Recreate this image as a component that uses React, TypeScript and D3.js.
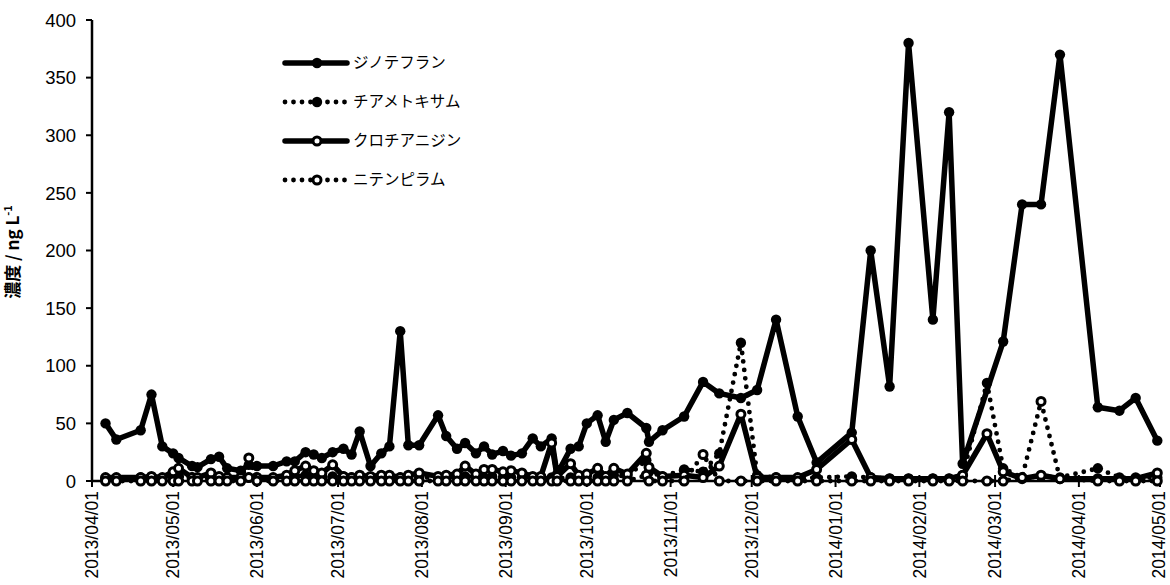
import React from 'react';
import * as d3 from 'd3';

const dates = [
  "2013-04-06","2013-04-10","2013-04-19","2013-04-23","2013-04-27","2013-05-01","2013-05-03","2013-05-08","2013-05-10","2013-05-15",
  "2013-05-18","2013-05-21","2013-05-26","2013-05-29","2013-06-01","2013-06-07","2013-06-12","2013-06-15","2013-06-19","2013-06-22",
  "2013-06-25","2013-06-29","2013-07-03","2013-07-06","2013-07-09","2013-07-13","2013-07-17","2013-07-20","2013-07-24","2013-07-27",
  "2013-07-31","2013-08-07","2013-08-10","2013-08-14","2013-08-17","2013-08-21","2013-08-24","2013-08-27","2013-08-31","2013-09-03",
  "2013-09-07","2013-09-11","2013-09-14","2013-09-18","2013-09-20","2013-09-25","2013-09-28","2013-10-01","2013-10-05","2013-10-08",
  "2013-10-11","2013-10-16","2013-10-23","2013-10-24","2013-10-29","2013-11-06","2013-11-13","2013-11-19","2013-11-27","2013-12-03",
  "2013-12-10","2013-12-18","2013-12-25","2014-01-07","2014-01-14","2014-01-21","2014-01-28","2014-02-06","2014-02-12","2014-02-17",
  "2014-02-26","2014-03-04","2014-03-11","2014-03-18","2014-03-25","2014-04-08","2014-04-16","2014-04-22","2014-04-30"
];

const dinotefuran: (number | null)[] = [
  50,36,44,75,30,24,20,13,12,19,
  21,11,9,14,13,13,17,17,25,23,
  20,25,28,23,43,13,24,30,130,31,
  31,57,39,28,33,24,30,23,26,22,
  24,37,30,37,6,28,30,50,57,34,
  53,59,46,34,44,56,86,76,72,79,
  140,56,16,42,200,82,380,140,320,15,
  null,121,240,240,370,64,61,72,35
];

const thiamethoxam: (number | null)[] = [
  2,2,3,3,2,3,4,3,2,3,
  3,2,2,3,3,2,3,4,5,4,
  3,4,4,3,3,2,3,3,3,4,
  3,3,4,3,4,3,3,4,3,3,
  3,3,2,3,2,3,3,4,3,3,
  5,4,18,8,4,10,8,24,120,5,
  3,2,3,4,3,2,2,2,2,5,
  85,11,3,4,3,11,3,3,3
];

const clothianidin: (number | null)[] = [
  3,3,3,4,3,8,11,3,3,7,
  4,3,3,3,3,3,5,9,13,9,
  7,14,4,3,5,4,5,5,3,5,
  7,4,5,6,13,6,10,10,8,9,
  7,4,4,33,4,15,5,6,11,4,
  11,6,24,12,4,5,3,13,58,3,
  3,3,10,36,3,2,2,2,2,5,
  41,8,2,5,2,2,2,2,7
];

const nitenpyram: (number | null)[] = [
  0,0,0,0,0,0,0,0,0,0,
  0,0,0,20,0,0,0,0,0,0,
  0,0,0,0,0,0,0,0,0,0,
  0,0,0,0,0,0,0,0,0,0,
  0,0,0,0,0,0,0,0,0,0,
  0,0,5,0,0,0,23,0,0,0,
  0,0,0,0,0,0,0,0,0,0,
  0,0,3,69,2,0,0,0,0
];

const seriesNames = ["ジノテフラン", "チアメトキサム", "クロチアニジン", "ニテンピラム"];
const yTicks = [0, 50, 100, 150, 200, 250, 300, 350, 400];
const xTickDates = [
  "2013-04-01","2013-05-01","2013-06-01","2013-07-01","2013-08-01","2013-09-01","2013-10-01",
  "2013-11-01","2013-12-01","2014-01-01","2014-02-01","2014-03-01","2014-04-01","2014-05-01"
];

const parse = d3.utcParse("%Y-%m-%d");
const fmt = d3.utcFormat("%Y/%m/%d");

const x = d3.scaleUtc()
  .domain([parse("2013-04-01")!, parse("2014-05-01")!])
  .range([92, 1160]);
const y = d3.scaleLinear().domain([0, 400]).range([481, 20]);

type Pt = { d: Date; v: number };
const toPts = (vals: (number | null)[]): Pt[] =>
  dates.map((s, i) => ({ d: parse(s)!, v: vals[i] as number })).filter((p, i) => vals[i] != null);

const series = [
  { name: seriesNames[0], pts: toPts(dinotefuran), dotted: false, open: false },
  { name: seriesNames[1], pts: toPts(thiamethoxam), dotted: true, open: false },
  { name: seriesNames[2], pts: toPts(clothianidin), dotted: false, open: true },
  { name: seriesNames[3], pts: toPts(nitenpyram), dotted: true, open: true },
];

const line = d3.line<Pt>().x(p => x(p.d)).y(p => y(p.v));

const lineStyle = (dotted: boolean) => ({
  fill: "none",
  stroke: "#000",
  strokeWidth: dotted ? 4.8 : 5.5,
  strokeLinejoin: "round" as const,
  strokeLinecap: "round" as const,
  strokeDasharray: dotted ? "0 8.5" : undefined,
});

const Marker = ({ cx, cy, open }: { cx: number; cy: number; open: boolean }) =>
  open ? (
    <circle cx={cx} cy={cy} r={4} fill="#fff" stroke="#000" strokeWidth={3} />
  ) : (
    <circle cx={cx} cy={cy} r={5.2} fill="#000" />
  );

export default function App() {
  const legendY = [63, 102, 141, 180];
  return (
    <svg width={1170} height={585} style={{ position: "absolute", left: 0, top: 0, background: "#fff" }}
      fontFamily="'Liberation Sans', Arial, sans-serif">
      <rect width={1170} height={585} fill="#fff" />
      {/* y axis */}
      <line x1={92} x2={92} y1={y(400)} y2={y(0)} stroke="#000" strokeWidth={2.5} />
      {yTicks.map(t => (
        <g key={t}>
          <line x1={86} x2={92} y1={y(t)} y2={y(t)} stroke="#000" strokeWidth={2} />
          <text x={76} y={y(t)} dy="0.36em" textAnchor="end" fontSize={18.5} fill="#000">{t}</text>
        </g>
      ))}
      {/* x axis */}
      <line x1={92} x2={1162} y1={y(0)} y2={y(0)} stroke="#000" strokeWidth={2.5} />
      {xTickDates.map(s => {
        const xx = Math.min(x(parse(s)!), 1159);
        return (
          <g key={s}>
            <line x1={x(parse(s)!)} x2={x(parse(s)!)} y1={y(0) - 6} y2={y(0) + 6} stroke="#000" strokeWidth={2} />
            <text transform={`translate(${xx},491) rotate(-90)`} dy="0.36em" textAnchor="end"
              fontSize={17.5} fill="#000">{fmt(parse(s)!)}</text>
          </g>
        );
      })}
      {/* y title */}
      <text transform="translate(19,252) rotate(-90)" textAnchor="middle" fontSize={17} fontWeight="bold"
        fontFamily="'Noto Sans CJK JP', sans-serif" fill="#000">
        濃度 / ng L<tspan dy="-7" fontSize={11}>-1</tspan>
      </text>
      {/* series */}
      {series.map((s, si) => (
        <g key={si}>
          <path d={line(s.pts) || ""} style={lineStyle(s.dotted)} />
          {s.pts.map((p, i) => (
            <Marker key={i} cx={x(p.d)} cy={y(p.v)} open={s.open} />
          ))}
        </g>
      ))}
      {/* legend */}
      {series.map((s, i) => (
        <g key={"lg" + i}>
          <line x1={285} x2={347} y1={legendY[i]} y2={legendY[i]} style={lineStyle(s.dotted)} />
          <Marker cx={317} cy={legendY[i]} open={s.open} />
          <text x={353} y={legendY[i]} dy="0.35em" fontSize={15.5} fontFamily="'Noto Sans CJK JP', sans-serif"
            fill="#000">{s.name}</text>
        </g>
      ))}
    </svg>
  );
}
